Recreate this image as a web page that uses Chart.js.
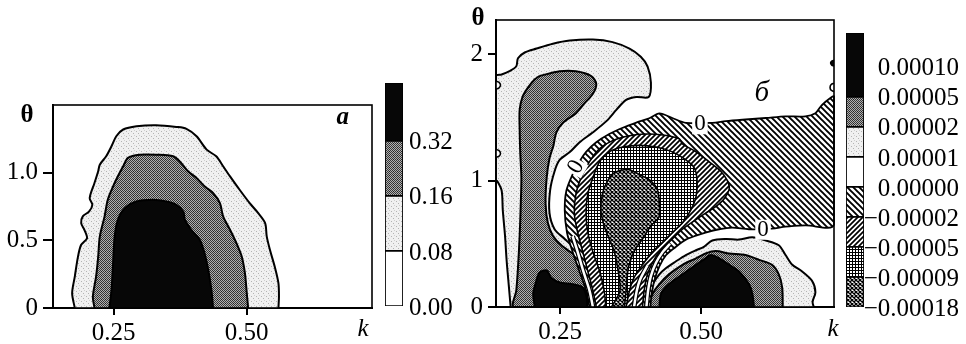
<!DOCTYPE html>
<html><head><meta charset="utf-8">
<script src="https://cdn.jsdelivr.net/npm/chart.js@4.4.1/dist/chart.umd.min.js"></script>
<style>
html,body{margin:0;padding:0;background:#fff;}
#wrap{position:relative;width:966px;height:344px;overflow:hidden;background:#fff;}
#wrap canvas{position:absolute;left:0;top:0;}
</style></head><body>
<div id="wrap">
<canvas id="pa" width="966" height="344"></canvas>
<canvas id="ba" width="966" height="344"></canvas>
<canvas id="pb" width="966" height="344"></canvas>
<canvas id="bb" width="966" height="344"></canvas>
</div>
<script>
// ---------- axes / ticks ----------
const kRange = [0.136, 0.736];
const kTicks = [0.25, 0.50];
const kTickLabels = ['0.25', '0.50'];
const thetaRangeA = [0, 1.5];
const thetaTicksA = [0, 0.5, 1.0];
const thetaTickLabelsA = ['0', '0.5', '1.0'];
const thetaRangeB = [0, 2.27];
const thetaTicksB = [0, 1, 2];
const thetaTickLabelsB = ['0', '1', '2'];

// ---------- colour-bar levels ----------
const levelsA = ['0.00', '0.08', '0.16', '0.32'];
const levelsB = ['\u22120.00018', '\u22120.00009', '\u22120.00005', '\u22120.00002', '0.00000', '0.00001', '0.00002', '0.00005', '0.00010'];

// ---------- panel a contours [k, theta] ----------
const a008 = [[0.177,0],[0.172,0.109],[0.177,0.232],[0.183,0.380],[0.189,0.467],[0.200,0.516],[0.195,0.578],[0.189,0.627],[0.192,0.677],[0.204,0.714],[0.210,0.763],[0.205,0.812],[0.214,0.924],[0.221,1.010],[0.224,1.059],[0.236,1.121],[0.246,1.195],[0.255,1.269],[0.268,1.319],[0.293,1.343],[0.330,1.351],[0.368,1.338],[0.387,1.324],[0.406,1.269],[0.425,1.170],[0.443,1.121],[0.456,1.047],[0.469,0.973],[0.487,0.874],[0.506,0.775],[0.522,0.701],[0.535,0.627],[0.538,0.529],[0.544,0.430],[0.553,0.306],[0.560,0.183],[0.561,0.084],[0.560,0]];
const a016 = [[0.214,0],[0.211,0.084],[0.217,0.232],[0.221,0.380],[0.224,0.528],[0.233,0.677],[0.239,0.800],[0.249,0.899],[0.258,0.973],[0.268,1.047],[0.277,1.109],[0.299,1.133],[0.330,1.133],[0.362,1.121],[0.377,1.072],[0.390,1.010],[0.406,0.961],[0.421,0.899],[0.437,0.850],[0.450,0.775],[0.456,0.677],[0.469,0.578],[0.481,0.479],[0.491,0.380],[0.497,0.257],[0.500,0.133],[0.503,0]];
const a032 = [[0.242,0],[0.246,0.133],[0.249,0.331],[0.252,0.528],[0.258,0.652],[0.271,0.738],[0.293,0.788],[0.324,0.800],[0.349,0.788],[0.368,0.763],[0.381,0.714],[0.384,0.652],[0.396,0.578],[0.412,0.504],[0.421,0.405],[0.428,0.282],[0.434,0.133],[0.437,0]];

// ---------- panel б contours [k, theta] ----------
const bPos1 = [[0.162,0],[0.159,0.155],[0.155,0.360],[0.152,0.564],[0.148,0.768],[0.146,0.921],[0.138,0.997],[0.136,1.0],[0.136,1.827],[0.146,1.839],[0.160,1.865],[0.172,1.904],[0.175,1.967],[0.187,2.013],[0.208,2.044],[0.237,2.082],[0.267,2.107],[0.308,2.115],[0.343,2.095],[0.373,2.044],[0.393,1.980],[0.405,1.904],[0.411,1.776],[0.407,1.661],[0.385,1.661],[0.367,1.638],[0.350,1.561],[0.332,1.470],[0.307,1.378],[0.284,1.301],[0.267,1.225],[0.249,1.163],[0.240,1.074],[0.232,0.921],[0.231,0.742],[0.240,0.615],[0.258,0.538],[0.275,0.462],[0.287,0.360],[0.293,0.207],[0.298,0]];
const bPos2 = [[0.213,1.827],[0.249,1.865],[0.278,1.865],[0.305,1.827],[0.314,1.763],[0.308,1.686],[0.293,1.610],[0.278,1.533],[0.255,1.457],[0.243,1.380],[0.238,1.278],[0.231,1.176],[0.226,1.023],[0.224,0.819],[0.228,0.666],[0.237,0.564],[0.252,0.488],[0.272,0.423],[0.285,0.373],[0.291,0.232],[0.295,0],[0.168,0],[0.172,0.130],[0.175,0.308],[0.178,0.564],[0.180,0.819],[0.181,1.023],[0.179,1.227],[0.178,1.406],[0.178,1.559],[0.183,1.661],[0.193,1.737],[0.205,1.801],[0.213,1.827]];
const bPos5 = [[0.205,0],[0.202,0.105],[0.206,0.181],[0.213,0.270],[0.226,0.289],[0.234,0.232],[0.249,0.194],[0.272,0.181],[0.290,0.155],[0.297,0.079],[0.298,0]];
const cPos1 = [[0.399,0],[0.405,0.105],[0.414,0.181],[0.426,0.258],[0.438,0.308],[0.455,0.360],[0.473,0.411],[0.491,0.449],[0.505,0.475],[0.520,0.526],[0.544,0.538],[0.567,0.533],[0.591,0.551],[0.615,0.526],[0.638,0.488],[0.650,0.411],[0.662,0.334],[0.679,0.283],[0.697,0.207],[0.703,0.117],[0.698,0.041],[0.700,0]];
const cPos2 = [[0.405,0],[0.414,0.105],[0.426,0.181],[0.443,0.258],[0.467,0.334],[0.491,0.385],[0.508,0.423],[0.526,0.442],[0.550,0.423],[0.579,0.411],[0.603,0.373],[0.626,0.334],[0.638,0.258],[0.644,0.155],[0.645,0]];
const cPos5 = [[0.426,0],[0.429,0.105],[0.443,0.181],[0.467,0.258],[0.491,0.334],[0.508,0.385],[0.517,0.411],[0.532,0.385],[0.550,0.334],[0.567,0.283],[0.585,0.181],[0.591,0.105],[0.594,0]];
const bNeg0 = [[0.302,0],[0.296,0.130],[0.284,0.283],[0.272,0.436],[0.262,0.589],[0.258,0.768],[0.261,0.921],[0.272,1.049],[0.284,1.150],[0.296,1.227],[0.314,1.303],[0.337,1.368],[0.361,1.418],[0.384,1.457],[0.408,1.493],[0.426,1.531],[0.449,1.495],[0.473,1.457],[0.520,1.457],[0.544,1.470],[0.579,1.483],[0.615,1.495],[0.650,1.508],[0.685,1.508],[0.703,1.533],[0.712,1.584],[0.721,1.623],[0.732,1.661],[0.736,1.665],[0.736,0.653],[0.685,0.645],[0.650,0.635],[0.626,0.620],[0.585,0.615],[0.555,0.628],[0.532,0.615],[0.508,0.589],[0.491,0.564],[0.473,0.533],[0.455,0.475],[0.438,0.411],[0.426,0.321],[0.417,0.207],[0.412,0.092],[0.410,0]];
const bNeg2 = [[0.314,0],[0.308,0.130],[0.299,0.283],[0.290,0.436],[0.281,0.589],[0.275,0.742],[0.278,0.896],[0.287,1.023],[0.302,1.150],[0.320,1.253],[0.343,1.316],[0.373,1.355],[0.402,1.368],[0.432,1.360],[0.461,1.330],[0.467,1.291],[0.491,1.227],[0.514,1.150],[0.535,1.074],[0.547,0.997],[0.550,0.934],[0.541,0.857],[0.526,0.794],[0.508,0.742],[0.491,0.691],[0.467,0.615],[0.449,0.538],[0.426,0.436],[0.413,0.344],[0.404,0.245],[0.399,0.130],[0.396,0]];
const bNeg5 = [[0.331,0],[0.328,0.130],[0.320,0.283],[0.308,0.436],[0.299,0.589],[0.296,0.742],[0.299,0.896],[0.308,1.023],[0.320,1.150],[0.337,1.227],[0.361,1.265],[0.390,1.278],[0.420,1.265],[0.449,1.227],[0.473,1.163],[0.488,1.100],[0.493,0.997],[0.491,0.870],[0.482,0.768],[0.467,0.666],[0.449,0.589],[0.432,0.513],[0.414,0.436],[0.396,0.334],[0.381,0.232],[0.373,0.130],[0.367,0]];
const bNeg9 = [[0.341,0],[0.356,0.130],[0.352,0.308],[0.346,0.436],[0.337,0.538],[0.328,0.641],[0.322,0.768],[0.325,0.896],[0.334,0.997],[0.346,1.062],[0.370,1.087],[0.390,1.049],[0.411,0.997],[0.423,0.921],[0.426,0.819],[0.426,0.717],[0.411,0.641],[0.396,0.538],[0.384,0.462],[0.376,0.385],[0.370,0.283],[0.367,0.130],[0.364,0]];
// tightly packed contours in the lower "V"
const bDenseL = [[0.308,0],[0.302,0.130],[0.291,0.283],[0.281,0.436],[0.272,0.560]];
const bDenseR1 = [[0.403,0],[0.406,0.130],[0.411,0.245],[0.420,0.350],[0.432,0.436],[0.445,0.500]];
const bDenseR2 = [[0.381,0],[0.386,0.130],[0.392,0.220],[0.405,0.330]];
// small closed contours at the frame
const bIsleL1 = [[0.136,1.785],[0.141,1.778],[0.144,1.755],[0.141,1.732],[0.136,1.725]];
const bIsleL2 = [[0.136,1.245],[0.141,1.238],[0.144,1.215],[0.141,1.192],[0.136,1.185]];
const bIsleR1 = [[0.736,1.952],[0.732,1.945],[0.730,1.929],[0.732,1.913],[0.736,1.906]];
const bIsleR2 = [[0.736,1.770],[0.731,1.760],[0.729,1.737],[0.731,1.714],[0.736,1.704]];

// ---------- styling ----------
const FONT = '"Liberation Serif","Times New Roman",serif';
function pat(s, painter){ const c=document.createElement('canvas'); c.width=s; c.height=s; const g=c.getContext('2d'); painter(g,s); return g.createPattern(c,'repeat'); }
const FILL = {
  white: '#ffffff',
  light: pat(5,(g,s)=>{g.fillStyle='#f0f0f0';g.fillRect(0,0,s,s);g.fillStyle='#b4b4b4';g.fillRect(1,1,1,1);g.fillRect(3,3,1,1);g.fillStyle='#d0d0d0';g.fillRect(4,0,1,1);}),
  dark: pat(4,(g,s)=>{g.fillStyle='#b0b0b0';g.fillRect(0,0,s,s);g.fillStyle='#363636';for(let y=0;y<s;y++)for(let x=0;x<s;x++) if((x+y)%2===0) g.fillRect(x,y,1,1);g.fillStyle='#202020';g.fillRect(1,3,1,1);}),
  black: '#070707',
  hatchB: pat(6,(g,s)=>{g.fillStyle='#fff';g.fillRect(0,0,s,s);g.strokeStyle='#000';g.lineWidth=1.9;g.beginPath();for(const o of [-s,0,s]){g.moveTo(o-1,-1);g.lineTo(o+s+1,s+1);}g.stroke();}),
  hatchF: pat(5,(g,s)=>{g.fillStyle='#fff';g.fillRect(0,0,s,s);g.strokeStyle='#000';g.lineWidth=1.7;g.beginPath();for(const o of [-s,0,s]){g.moveTo(o-1,s+1);g.lineTo(o+s+1,-1);}g.stroke();}),
  grid: pat(3,(g)=>{g.fillStyle='#000';g.fillRect(0,0,3,3);g.fillStyle='#fff';g.fillRect(1,1,2,2);}),
  check: pat(4,(g,s)=>{g.fillStyle='#fff';g.fillRect(0,0,s,s);g.strokeStyle='#000';g.lineWidth=1.3;g.beginPath();for(const o of [-s,0,s]){g.moveTo(o-1,-1);g.lineTo(o+s+1,s+1);g.moveTo(o-1,s+1);g.lineTo(o+s+1,-1);}g.stroke();})
};

function region(data, fill, bw){ return {data, showLine:true, fill:'shape', backgroundColor:fill, borderColor:'#000', borderWidth:bw===undefined?2:bw, pointRadius:0, pointHoverRadius:0, tension:0.3, clip:1}; }
function curve(data, color, w){ return {data, showLine:true, fill:false, borderColor:color, borderWidth:w, pointRadius:0, pointHoverRadius:0, tension:0.3, clip:1}; }
function layered(list){ return list.map((d,i)=>Object.assign(d,{order:-i})); }

const framePlugin = {id:'frame', afterDraw(chart){ const {ctx, chartArea:a}=chart; ctx.save(); ctx.strokeStyle='#000'; ctx.lineWidth=1.6; ctx.strokeRect(a.left,a.top,a.right-a.left,a.bottom-a.top); ctx.restore(); }};
function textPlugin(items){ return {id:'txt', afterDraw(chart){ const {ctx, chartArea:a, scales:{x,y}}=chart; for(const it of items){ ctx.save(); ctx.font=it.font; ctx.textAlign='center'; ctx.textBaseline='middle'; let px,py; if(it.k!==undefined){px=x.getPixelForValue(it.k);py=y.getPixelForValue(it.t);} else {px=a.left+it.dx; py=it.py;} ctx.translate(px,py); if(it.rot) ctx.rotate(it.rot); if(it.bg){const w=ctx.measureText(it.text).width; ctx.fillStyle='#fff'; ctx.fillRect(-w/2-2,-10,w+4,20);} ctx.fillStyle='#000'; ctx.fillText(it.text,0,0); ctx.restore(); } }}; }

function panelScales(tRange, tTicks, tLabels, yW, yTick, xH){
  return {
    x:{type:'linear', min:kRange[0], max:kRange[1], z:1,
       afterBuildTicks:s=>{s.ticks=kTicks.map(v=>({value:v}));}, afterFit:s=>{s.height=xH;},
       ticks:{callback:(v,i)=>kTickLabels[i], font:{family:FONT,size:25}, color:'#000', padding:3, maxRotation:0, autoSkip:false},
       grid:{display:true, drawOnChartArea:false, drawTicks:true, tickLength:7, color:'#000', lineWidth:2},
       border:{display:true, color:'#000', width:2}},
    y:{type:'linear', min:tRange[0], max:tRange[1], z:1,
       afterBuildTicks:s=>{s.ticks=tTicks.map(v=>({value:v}));}, afterFit:s=>{s.width=yW;},
       ticks:{callback:(v,i)=>tLabels[i], font:{family:FONT,size:25}, color:'#000', padding:5, autoSkip:false},
       grid:{display:true, drawOnChartArea:false, drawTicks:true, tickLength:yTick, color:'#000', lineWidth:2},
       border:{display:true, color:'#000', width:2}}
  };
}
const baseOpts = {responsive:false, animation:false, events:[], plugins:{legend:{display:false}, tooltip:{enabled:false}}};

// ---------- panel a ----------
new Chart(document.getElementById('pa'), {
  type:'scatter',
  data:{datasets: layered([ region(a008, FILL.light), region(a016, FILL.dark), region(a032, FILL.black) ])},
  options:Object.assign({}, baseOpts, {layout:{padding:{left:0, top:105, right:594, bottom:0}}, scales:panelScales(thetaRangeA, thetaTicksA, thetaTickLabelsA, 53, 10, 36)}),
  plugins:[framePlugin, textPlugin([
    {text:'a', k:0.681, t:1.41, font:'italic bold 25px '+FONT},
    {text:'\u03b8', dx:-26, py:116, font:'bold 25px '+FONT},
    {text:'k', dx:310, py:329, font:'italic 25px '+FONT}
  ])]
});

// ---------- panel б ----------
new Chart(document.getElementById('pb'), {
  type:'scatter',
  data:{datasets: layered([
    region(bPos1, FILL.light), region(bPos2, FILL.dark), region(bPos5, FILL.black),
    region(cPos1, FILL.light), region(cPos2, FILL.dark), region(cPos5, FILL.black),
    region(bNeg0, FILL.hatchB, 1.8), region(bNeg2, FILL.hatchF, 1.6), region(bNeg5, FILL.grid, 1.6), region(bNeg9, FILL.check, 1.6),
    curve(bDenseL,'#000',5), curve(bDenseL,'#fff',2.5),
    curve(bDenseR1,'#000',5), curve(bDenseR1,'#fff',2.5),
    curve(bDenseR2,'#000',5), curve(bDenseR2,'#fff',2.5),
    region(bIsleL1, FILL.white, 1.6), region(bIsleL2, FILL.white, 1.6),
    region(bIsleR1, FILL.black, 1.6), region(bIsleR2, FILL.white, 1.6)
  ])},
  options:Object.assign({}, baseOpts, {layout:{padding:{left:0, top:10, right:132, bottom:0}}, scales:panelScales(thetaRangeB, thetaTicksB, thetaTickLabelsB, 496, 8, 37)}),
  plugins:[framePlugin, textPlugin([
    {text:'\u0431', k:0.608, t:1.69, font:'italic 29px '+FONT},
    {text:'0', k:0.498, t:1.445, font:'23px '+FONT, bg:true},
    {text:'0', k:0.610, t:0.611, font:'23px '+FONT, bg:true},
    {text:'0', k:0.278, t:1.108, font:'23px '+FONT, bg:true, rot:-1.05},
    {text:'\u03b8', dx:-18, py:19, font:'bold 25px '+FONT},
    {text:'k', dx:337, py:329, font:'italic 25px '+FONT}
  ])]
});

// ---------- colour bars ----------
function colourBar(id, levels, fills, top, pad, yW, fs, pd, align){
  const datasets = fills.map((f,i)=>({data:[[i, i===fills.length-1 ? top : i+1]], backgroundColor:f, borderColor:'#000', borderWidth:1.2, borderSkipped:false, grouped:false, barPercentage:1, categoryPercentage:1}));
  return new Chart(document.getElementById(id), {
    type:'bar', data:{labels:[''], datasets},
    options:Object.assign({}, baseOpts, {layout:{padding:pad}, scales:{
      x:{display:false},
      y:{position:'right', min:0, max:top, afterBuildTicks:s=>{s.ticks=levels.map((l,i)=>({value:i}));}, afterFit:s=>{s.width=yW;},
         ticks:{callback:(v,i)=>levels[i], font:{family:FONT,size:fs}, color:'#000', padding:pd, labelOffset:2, autoSkip:false, crossAlign:align},
         grid:{display:false, drawTicks:false}, border:{display:false}}
    }})
  });
}
colourBar('ba', levelsA, [FILL.white, FILL.light, FILL.dark, FILL.black], 4.05, {left:385, top:83, right:503, bottom:38}, 60, 25, 6, 'near');
colourBar('bb', levelsB, [FILL.check, FILL.grid, FILL.hatchF, FILL.hatchB, FILL.white, FILL.light, FILL.dark, FILL.black], 9.13, {left:846, top:33, right:7, bottom:37}, 95, 25, 4, 'far');
</script>
</body></html>
